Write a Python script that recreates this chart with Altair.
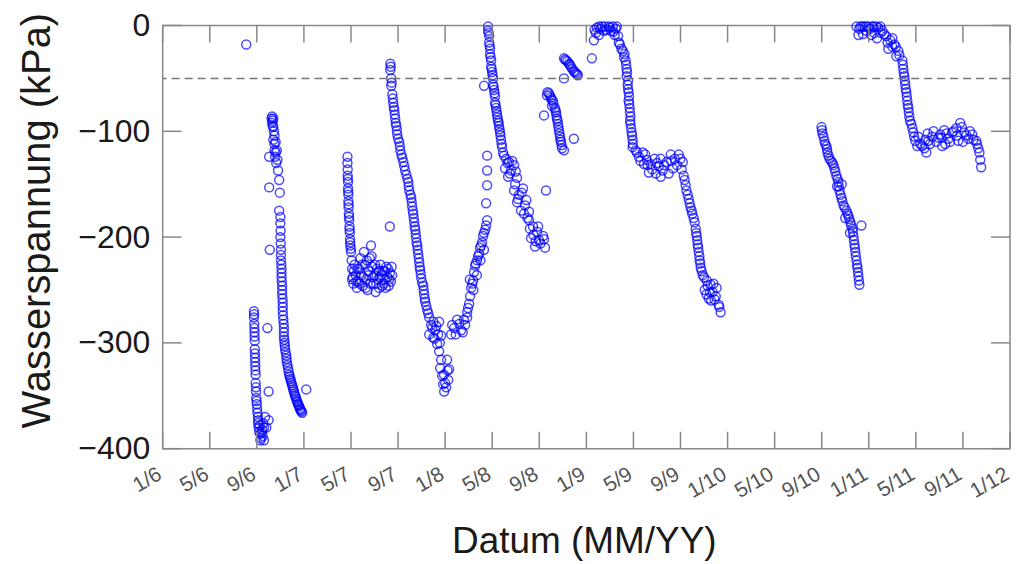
import altair as alt
import pandas as pd

# ---- data: months since Jan 2006 (x) and water tension in kPa (y) ----
s1_m = [7.1]
s1_v = [-18]

s2_m = [7.75, 7.75, 7.78, 7.8, 7.82, 7.83, 7.85, 7.87, 7.9, 7.9, 7.93, 7.95, 8.0, 8.02, 8.05, 8.1, 8.1,
        8.15, 8.2, 8.25, 8.3, 8.35, 8.45, 8.5, 8.55, 8.6, 8.7, 8.8, 8.9, 9.0, 9.0,
        7.77, 7.79, 7.81, 7.84, 7.86, 7.88, 7.92, 7.97, 8.12, 8.4, 8.6, 8.3]
s2_v = [-270, -276, -282, -290, -298, -306, -314, -322, -330, -338, -346, -352, -358, -362, -366, -370, -376,
        -380, -384, -378, -386, -390, -382, -388, -376, -392, -370, -380, -286, -346, -373,
        -273, -286, -294, -310, -318, -326, -342, -355, -373, -385, -380, -392]

s3_m = [9.25, 9.3, 9.35, 9.4, 9.35, 9.45, 9.4, 9.5, 9.5, 9.55, 9.6, 9.7, 9.75, 9.8, 9.9, 9.95, 9.9, 10.0,
        10.0, 10.05, 10.05, 10.1, 10.1, 10.15, 10.15, 10.2, 10.2, 10.25, 10.3, 10.3, 10.35, 10.4, 10.5,
        10.55, 10.65, 10.75, 10.85, 10.95, 11.05, 11.15, 11.25, 11.35, 11.45, 11.55, 11.65, 11.75, 11.85,
        9.05, 9.05, 9.1, 12.2,
        10.0, 10.02, 10.03, 10.05, 10.08, 10.1, 10.12, 10.15, 10.18, 10.2, 10.22, 10.28, 10.3, 10.33, 10.38,
        10.45, 10.52, 10.6, 10.7, 10.8, 10.9, 11.0, 11.1, 11.2, 11.3, 11.4, 11.5, 11.6, 11.7, 11.8,
        9.3, 9.4, 9.5, 9.6, 9.65]
s3_v = [-88, -86, -90, -88, -95, -100, -108, -112, -118, -124, -110, -118, -127, -137, -146, -158, -175, -187,
        -200, -212, -222, -230, -238, -246, -254, -262, -270, -278, -286, -294, -300, -306, -312,
        -318, -324, -330, -334, -338, -342, -346, -350, -353, -356, -359, -362, -364, -366,
        -124, -153, -212, -344,
        -181, -194, -206, -217, -226, -234, -242, -250, -258, -266, -274, -282, -290, -297, -303,
        -309, -315, -321, -327, -332, -336, -340, -344, -348, -351, -355, -358, -360, -363, -365,
        -92, -96, -104, -120, -130]

s4_m = [15.7, 15.7, 15.72, 15.72, 15.75, 15.75, 15.78, 15.78, 15.8, 15.82, 15.85, 15.87, 15.9, 15.92, 15.95,
        16.0, 16.05, 16.1, 16.15, 16.2, 16.3, 16.4, 16.5, 16.6, 16.7, 16.8, 16.9, 17.0, 17.1, 17.2, 17.3,
        17.4, 17.5, 17.6, 17.7, 17.8, 17.9, 18.0, 18.1, 18.2, 18.3, 18.4, 18.5, 18.6, 18.7, 18.8, 18.9,
        19.0, 19.1, 19.2, 19.3, 19.4, 19.5, 19.3,
        16.1, 16.25, 16.45, 16.55, 16.75, 16.95, 17.05, 17.25, 17.35, 17.45, 17.65, 17.75, 17.85, 18.05,
        18.15, 18.35, 18.45, 18.65, 18.85, 18.95, 19.15, 19.25, 19.45,
        15.74, 15.76, 15.79, 15.83, 15.88, 15.93, 15.98]
s4_v = [-124, -130, -136, -142, -148, -154, -160, -166, -172, -178, -184, -190, -196, -202, -208,
        -214, -222, -230, -238, -244, -226, -236, -248, -242, -230, -220, -236, -246, -214, -226, -240,
        -250, -232, -220, -208, -228, -244, -236, -252, -230, -240, -248, -226, -236, -232, -244, -240,
        -228, -238, -246, -234, -242, -236, -190,
        -240, -232, -242, -230, -244, -226, -238, -248, -222, -236, -244, -218, -238, -226,
        -244, -232, -238, -246, -232, -248, -230, -240, -228,
        -145, -157, -169, -181, -193, -205, -211]

s5_m = [19.34, 19.34, 19.42, 19.42, 19.51, 19.59, 19.68, 19.76, 19.85, 19.93, 20.10, 20.19, 20.36, 20.53,
        20.70, 20.87, 20.95, 21.12, 21.20, 21.29, 21.37, 21.46, 21.54, 21.63, 21.71, 21.80, 21.88, 21.97,
        22.14, 22.22, 22.31, 22.48, 22.65,
        22.81, 23.16, 23.49, 22.99, 23.32, 23.66, 22.65,
        23.49, 23.66, 23.58, 23.75, 23.83, 23.92, 24.09, 24.26, 24.34, 24.17,
        24.51, 24.77, 25.02, 25.36, 25.70, 25.87,
        25.87, 26.04, 26.12, 26.21, 26.38, 26.46, 26.55, 26.72, 26.89, 26.97, 27.14, 27.23, 27.40, 27.48,
        27.57, 27.57, 27.57, 27.57, 27.48,
        19.38, 19.46, 19.55, 19.64, 19.72, 19.8, 19.9, 20.0, 20.15, 20.28, 20.45, 20.6, 20.8, 20.9, 21.05,
        21.16, 21.25, 21.33, 21.42, 21.5, 21.58, 21.67, 21.76, 21.84, 21.93, 22.05, 22.18, 22.27, 22.4, 22.56,
        22.9, 23.1, 23.25, 23.4, 23.55, 23.0, 24.0, 24.2, 23.9, 24.6, 24.9, 25.2, 25.5, 25.6, 25.95,
        26.3, 26.6, 26.8, 27.05, 27.3, 26.1, 26.4, 26.7, 27.0, 27.3]
s5_v = [-36, -42, -50, -57, -65, -73, -80, -88, -95, -103, -110, -118, -125, -133,
        -141, -148, -156, -163, -171, -178, -186, -193, -201, -208, -216, -224, -231, -239,
        -246, -254, -261, -269, -276,
        -283, -288, -280, -295, -301, -293, -292,
        -308, -316, -324, -331, -339, -346, -342, -335, -325, -316,
        -292, -286, -278, -288, -283, -276,
        -271, -263, -256, -248, -241, -233, -227, -222, -216, -210, -205, -199, -193, -189,
        -184, -123, -137, -151, -168,
        -39, -54, -69, -77, -84, -92, -99, -107, -114, -122, -129, -137, -145, -152, -160,
        -167, -175, -182, -190, -197, -205, -212, -220, -228, -235, -243, -250, -258, -265, -272,
        -286, -296, -284, -292, -300, -280, -338, -326, -330, -283, -292, -282, -290, -278, -267,
        -244, -225, -218, -208, -196, -240, -250, -236, -222, -212]

s6_m = [27.65, 27.65, 27.74, 27.74, 27.82, 27.82, 27.91, 27.91, 27.99, 28.07, 28.07, 28.16, 28.24, 28.24,
        28.33, 28.41, 28.50, 28.58, 28.67, 28.75, 28.84, 27.31,
        28.92, 29.18, 29.43, 29.09, 29.60, 29.86, 29.35, 30.11,
        29.86, 30.28, 30.62, 30.11, 30.79, 30.45, 31.13,
        31.13, 31.47, 31.81, 31.30, 31.98, 32.32, 31.64, 32.49, 32.57,
        27.7, 27.78, 27.86, 27.95, 28.03, 28.12, 28.2, 28.28, 28.37, 28.45, 28.54, 28.62, 28.7, 28.8,
        29.0, 29.3, 29.5, 29.7, 30.0, 29.95, 30.2, 30.5, 30.7, 30.9, 31.0, 31.2, 31.5, 31.7, 31.9, 32.1, 32.4]
s6_v = [-1, -5, -10, -16, -22, -27, -33, -39, -44, -50, -56, -61, -67, -73,
        -78, -84, -90, -95, -101, -108, -115, -57,
        -120, -126, -129, -135, -137, -132, -143, -144,
        -156, -160, -154, -167, -170, -175, -176,
        -184, -190, -195, -201, -203, -199, -209, -210, -156,
        -7, -19, -30, -41, -47, -58, -64, -75, -81, -87, -92, -98, -104, -112,
        -123, -130, -140, -128, -138, -150, -164, -158, -178, -165, -182, -192, -198, -204, -190, -206, -202]

s7_m = [32.65, 32.82, 32.99, 33.16, 33.08, 33.33, 33.42, 33.50, 33.59, 33.67, 33.76, 33.84, 33.93, 34.10,
        32.40, 34.94,
        32.7, 32.9, 33.05, 33.2, 33.38, 33.46, 33.55, 33.63, 33.72, 33.8, 33.9]
s7_v = [-66, -64, -68, -71, -76, -78, -82, -88, -93, -99, -105, -110, -116, -118,
        -85, -107,
        -63, -66, -70, -74, -80, -85, -90, -96, -102, -108, -113]

s8_m = [34.10, 34.27, 34.52, 34.69, 34.94, 35.11, 35.28, 34.10, 34.2, 34.4, 34.6, 34.8, 35.0, 35.2]
s8_v = [-31, -33, -36, -39, -43, -45, -47, -50, -32, -34, -37, -41, -44, -46]

s9_m = [36.47, 36.64, 36.81, 37.07, 37.32, 37.57, 37.91, 38.25, 38.59, 37.07, 37.49, 38.08, 38.41,
        38.76, 38.98, 39.25, 39.34, 39.42, 39.42, 39.51, 39.59, 39.59, 39.68, 39.75, 39.75, 39.85, 39.93, 39.93,
        40.19, 40.46, 40.80, 41.14, 41.48, 41.81, 42.15, 42.49, 42.83, 43.17, 43.51, 43.85, 44.19,
        41.31, 42.32, 43.34,
        44.27, 44.44, 44.61, 44.78, 44.95, 45.12, 45.29, 45.38, 45.46, 45.55, 45.63, 45.72,
        45.89, 46.23, 46.56, 46.06, 46.73, 47.07, 46.40, 46.90, 47.24, 47.41,
        36.7, 36.9, 37.2, 37.7, 38.0, 38.3, 38.5, 38.7, 38.85, 39.1, 39.2,
        39.38, 39.46, 39.55, 39.55, 39.63, 39.64, 39.7, 39.72, 39.8, 39.88, 39.96,
        40.3, 40.6, 41.0, 41.2, 41.6, 42.0, 42.3, 42.6, 43.0, 43.2, 43.7, 44.0, 44.1, 40.9, 41.9,
        44.35, 44.5, 44.7, 44.85, 45.0, 45.2, 45.33, 45.42, 45.5, 45.6, 45.68, 45.8,
        46.0, 46.3, 46.5, 46.8, 47.0, 46.2, 46.6, 47.3]
s9_v = [-31, -14, -7, -1, -1, -1, -1, -1, -1, -9, -5, -5, -9,
        -16, -22, -27, -33, -41, -48, -56, -63, -71, -78, -86, -93, -101, -108, -115,
        -118, -124, -120, -127, -131, -126, -133, -137, -129, -122, -126, -122, -129,
        -139, -143, -135,
        -142, -151, -160, -168, -175, -182, -192, -199, -207, -214, -222, -229,
        -236, -241, -245, -250, -252, -248, -258, -259, -264, -271,
        -4, -2, -3, -4, -2, -6, -3, -10, -18, -24, -30,
        -37, -44, -52, -60, -67, -74, -82, -90, -97, -104, -112,
        -120, -128, -122, -132, -136, -130, -126, -132, -140, -128, -132, -126, -136, -131, -140,
        -146, -156, -164, -172, -178, -186, -196, -203, -210, -218, -225, -232,
        -238, -246, -252, -244, -256, -254, -260, -266]

s10_m = [55.98, 56.06, 56.23, 56.40, 56.49, 56.66, 56.91, 57.08, 57.25, 57.42, 57.51, 57.68, 57.85, 58.10,
         58.27, 58.44, 58.61, 58.69, 58.78, 58.86, 58.95, 59.03, 59.12, 59.20, 59.37,
         56.02, 56.15, 56.3, 56.45, 56.58, 56.8, 57.0, 57.15, 57.35, 57.45, 57.6, 57.75, 57.95, 58.2,
         58.35, 58.5, 58.65, 58.74, 58.82, 58.9, 59.0, 59.08, 59.16, 57.3, 57.7, 58.0, 58.4]
s10_v = [-96, -102, -109, -114, -120, -126, -130, -135, -142, -148, -156, -163, -170, -175,
         -180, -186, -192, -199, -207, -214, -222, -229, -237, -245, -189,
         -99, -105, -112, -117, -123, -128, -132, -138, -145, -152, -160, -166, -172, -178,
         -183, -189, -195, -203, -210, -218, -226, -233, -241, -152, -150, -182, -196]

s11_m = [58.95, 59.29, 59.63, 59.97, 60.31, 60.65, 60.99, 59.12, 59.80, 60.48,
         61.15, 61.49, 61.83, 62.17, 62.51, 61.66, 62.34,
         62.85, 62.93, 63.02, 63.10, 63.19, 63.27, 63.36, 63.44, 63.61,
         63.78, 63.95, 64.12,
         64.38, 64.72, 65.06, 65.39, 65.73, 66.07, 66.41, 66.75, 67.09, 67.43, 67.77, 68.11, 68.45, 68.79,
         69.13, 69.30, 66.24, 64.89, 67.60, 69.47, 69.55,
         59.2, 59.45, 59.8, 60.1, 60.4, 60.8, 61.0, 59.5, 60.2, 60.7, 61.3, 61.6, 62.0, 62.3, 62.6, 62.0,
         62.9, 62.97, 63.06, 63.14, 63.23, 63.31, 63.4, 63.5, 63.7, 63.85,
         64.2, 64.55, 64.8, 65.2, 65.5, 65.9, 66.2, 66.6, 66.9, 67.2, 67.5, 67.9, 68.3, 68.6, 68.9, 69.2,
         69.4, 65.0, 66.5, 68.0]
s11_v = [-1, -1, -1, -1, -1, -1, -1, -9, -5, -7,
         -5, -10, -14, -18, -24, -22, -29,
         -33, -41, -48, -56, -63, -71, -78, -86, -93,
         -101, -109, -114,
         -112, -116, -109, -105, -110, -103, -99, -107, -101, -97, -92, -101, -107, -103,
         -109, -116, -114, -120, -109, -127, -134,
         -3, -1, -1, -3, -1, -2, -7, -8, -9, -12, -8, -16, -12, -20, -28, -20,
         -37, -45, -52, -60, -67, -75, -82, -90, -97, -105,
         -105, -114, -108, -112, -100, -106, -106, -102, -110, -100, -104, -96, -104, -100, -108, -112,
         -120, -102, -112, -110]

x_ticks = list(range(0, 73, 4))
y_ticks = [0, -100, -200, -300, -400]
threshold = [-50]

segments = [(s1_m, s1_v), (s2_m, s2_v), (s3_m, s3_v), (s4_m, s4_v), (s5_m, s5_v), (s6_m, s6_v),
            (s7_m, s7_v), (s8_m, s8_v), (s9_m, s9_v), (s10_m, s10_v), (s11_m, s11_v)]
rows = []
for ms, vs in segments:
    for m, v in zip(ms, vs):
        rows.append({"month": m, "kpa": v})
df = pd.DataFrame(rows)

W, H = 849, 424
xscale = alt.Scale(domain=[0, 72], nice=False, zero=False)
yscale = alt.Scale(domain=[-400, 0], nice=False, zero=False)

x_axis = alt.Axis(
    values=x_ticks,
    labelExpr="(datum.value % 12 + 1) + '/' + (6 + floor(datum.value / 12))",
    labelAngle=330, labelAlign="right", labelBaseline="alphabetic", labelFontSize=21,
    labelColor="#555555", labelPadding=29, labelOffset=0, labelOverlap=False, labelFlush=False,
    ticks=False, tickSize=0, domain=False, grid=False,
    title="Datum (MM/YY)", titleFontSize=37, titleFontWeight="normal", titleColor="#1a1a1a",
    titleX=422, titleY=104, titleAlign="center", titleBaseline="alphabetic")
y_axis = alt.Axis(
    values=y_ticks, labelFontSize=32, labelColor="#1a1a1a", labelPadding=13,
    ticks=False, tickSize=0, domain=False, grid=False,
    title="Wasserspannung (kPa)", titleFontSize=40, titleFontWeight="normal", titleColor="#1a1a1a",
    titleAngle=270, titleX=-125, titleY=195, titleAlign="center", titleBaseline="middle")

points = alt.Chart(df).mark_point(
    shape="circle", filled=False, size=80, strokeWidth=1.5, color="#0000ff", opacity=0.7, clip=False
).encode(
    x=alt.X("month:Q", scale=xscale, axis=x_axis),
    y=alt.Y("kpa:Q", scale=yscale, axis=y_axis),
)

thr = alt.Chart(pd.DataFrame({"kpa": threshold})).mark_rule(
    strokeDash=[8, 5], color="#777777", strokeWidth=1.5
).encode(y=alt.Y("kpa:Q", scale=yscale, axis=y_axis))

xt = pd.DataFrame({"month": x_ticks})
yt = pd.DataFrame({"kpa": y_ticks})
tick_style = dict(color="#888888", strokeWidth=1.5)
top_ticks = alt.Chart(xt).mark_rule(**tick_style).encode(
    x=alt.X("month:Q", scale=xscale, axis=x_axis), y=alt.value(0), y2=alt.value(17))
bottom_ticks = alt.Chart(xt).mark_rule(**tick_style).encode(
    x=alt.X("month:Q", scale=xscale, axis=x_axis), y=alt.value(H - 17), y2=alt.value(H))
left_ticks = alt.Chart(yt).mark_rule(**tick_style).encode(
    y=alt.Y("kpa:Q", scale=yscale, axis=y_axis), x=alt.value(0), x2=alt.value(19))
right_ticks = alt.Chart(yt).mark_rule(**tick_style).encode(
    y=alt.Y("kpa:Q", scale=yscale, axis=y_axis), x=alt.value(W - 19), x2=alt.value(W))

chart = alt.layer(points, thr, top_ticks, bottom_ticks, left_ticks, right_ticks).properties(
    width=W, height=H,
    autosize=alt.AutoSizeParams(type="none"),
    padding={"left": 155, "top": 17, "right": 4, "bottom": 114},
).configure(font="Liberation Sans").configure_view(stroke="#888888", strokeWidth=1.5)

chart.save("out.html", embed_options={"renderer": "svg", "actions": False})
